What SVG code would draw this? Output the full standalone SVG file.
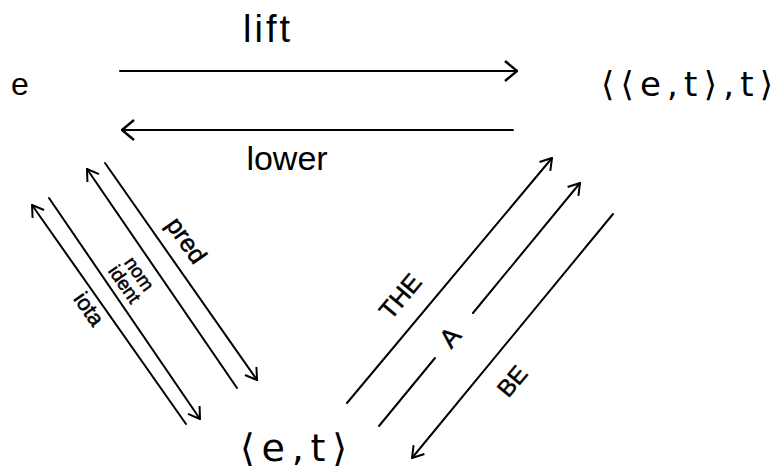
<svg xmlns="http://www.w3.org/2000/svg" width="775" height="472" viewBox="0 0 775 472">
<style>
.t{font-family:"Liberation Sans","DejaVu Sans",sans-serif;fill:#000}
.m{font-family:"DejaVu Sans","Liberation Sans",sans-serif;fill:#000}
.c{stroke:#000;stroke-width:2;fill:none;stroke-linecap:round}
.lbl{font-family:"Liberation Sans","DejaVu Sans",sans-serif;fill:#000;stroke:#000;stroke-width:0.5;text-anchor:middle;dominant-baseline:central}
</style>
<defs>
<marker id="big" viewBox="0 0 14 24" refX="13" refY="12" markerWidth="14" markerHeight="24" markerUnits="userSpaceOnUse" orient="auto">
<path d="M1,2 L13,12 L1,22" fill="none" stroke="#000" stroke-width="2.4" stroke-linejoin="round"/>
</marker>
<marker id="sm" viewBox="0 0 14 18" refX="13" refY="9" markerWidth="14" markerHeight="18" markerUnits="userSpaceOnUse" orient="auto">
<path d="M2,2 L13,9 L2,16" fill="none" stroke="#000" stroke-width="2" stroke-linejoin="round"/>
</marker>
</defs>
<rect width="775" height="472" fill="#fff"/>
<g id="node-e"><text class="t" x="11" y="95" font-size="32">e</text></g>
<g id="node-eet"><text class="m" x="601" y="96" font-size="34" textLength="172" lengthAdjust="spacing">⟨⟨e,t⟩,t⟩</text></g>
<g id="node-et"><text class="m" x="240" y="461" font-size="38" textLength="107" lengthAdjust="spacing">⟨e,t⟩</text></g>
<g id="connectors">
<line class="c" x1="120" y1="71" x2="517" y2="71" marker-end="url(#big)"/>
<line class="c" x1="513" y1="130" x2="122" y2="130" marker-end="url(#big)"/>
<line class="c" x1="105" y1="163" x2="257" y2="380" marker-end="url(#sm)"/>
<line class="c" x1="237" y1="388" x2="87" y2="169" marker-end="url(#sm)"/>
<line class="c" x1="49" y1="198" x2="200" y2="419" marker-end="url(#sm)"/>
<line class="c" x1="186" y1="424" x2="32" y2="205" marker-end="url(#sm)"/>
<line class="c" x1="347" y1="403" x2="552" y2="158" marker-end="url(#sm)"/>
<line class="c" x1="379" y1="426" x2="435" y2="358"/>
<line class="c" x1="473" y1="313" x2="580" y2="183" marker-end="url(#sm)"/>
<line class="c" x1="613" y1="214" x2="412" y2="458" marker-end="url(#sm)"/>
<text class="t" x="268" y="42" font-size="38" text-anchor="middle" letter-spacing="3">lift</text>
<text class="t" x="287" y="170" font-size="34" text-anchor="middle">lower</text>
<text class="lbl" font-size="25" transform="translate(187,240) rotate(55)">pred</text>
<g transform="translate(132,279) rotate(55)">
<text class="lbl" x="0" y="-9" font-size="19">nom</text>
<text class="lbl" x="0" y="9" font-size="19">ident</text>
</g>
<text class="lbl" font-size="22" transform="translate(89,309) rotate(55)">iota</text>
<text class="lbl" font-size="25" transform="translate(400,296) rotate(-50)">THE</text>
<text class="lbl" font-size="26" transform="translate(450,337) rotate(-50)">A</text>
<text class="lbl" font-size="24" transform="translate(512,381) rotate(-50)">BE</text>
</g>
</svg>
